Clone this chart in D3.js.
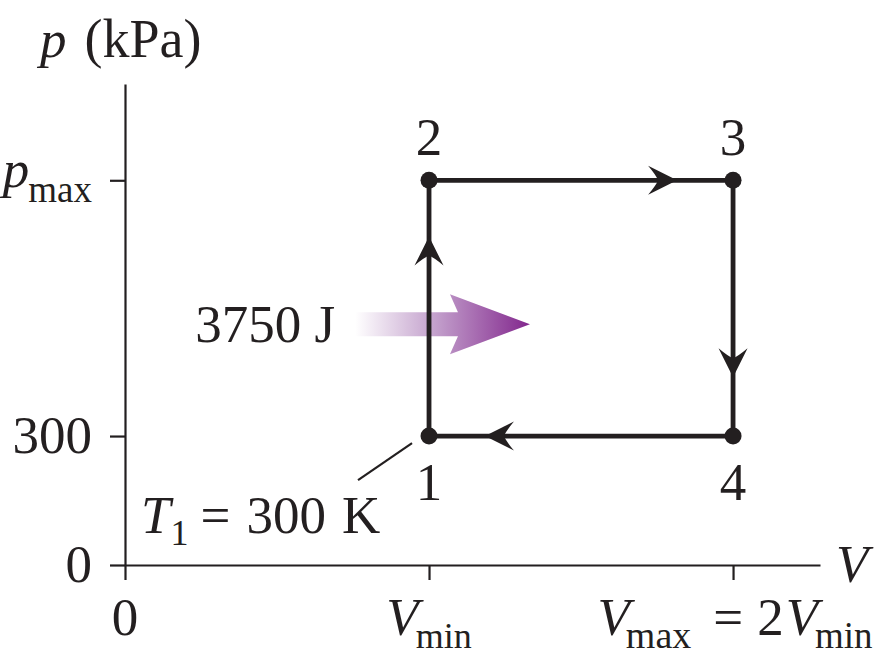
<!DOCTYPE html>
<html>
<head>
<meta charset="utf-8">
<script src="https://cdn.jsdelivr.net/npm/d3@7"></script>
<style>
  html, body { margin: 0; padding: 0; background: #fff; }
  svg { display: block; }
  svg text { font-family: "Liberation Serif", "DejaVu Serif", serif; fill: #231f20; }
</style>
</head>
<body>
<svg id="chart" width="894" height="671" font-family="Liberation Serif, DejaVu Serif, serif"></svg>
<script>
// ---------- data ----------
const stateNames = ["1", "2", "3", "4"];
const stateVolumes = [1, 1, 2, 2];          // in units of V_min
const pMax = 895;                             // kPa (unlabelled)
const statePressures = [300, pMax, pMax, 300]; // kPa
const arrowFractions = [0.78, 0.816, 0.77, 0.816]; // where each direction arrow sits along its leg

const pTickValues = [0, 300, pMax];
const pTickLabels = [["0", ""], ["300", ""], ["p", "max"]];
const vTickValues = [0, 1, 2];

const heatLabel = "3750 J";
const heatArrowV = [0.757, 1.332];  // V range of the heat arrow
const heatArrowP = 560;             // kPa level of the heat arrow
const tempLabel = ["T", "1", "=", "300", "K"];

const vDomainMax = 2.286;
const pDomainMax = 1119;

// ---------- setup ----------
const ink = "#231f20";
const FONT = "'Liberation Serif', 'DejaVu Serif', serif";
const svg = d3.select("#chart");
const x = d3.scaleLinear().domain([0, vDomainMax]).range([125, 820]);
const y = d3.scaleLinear().domain([0, pDomainMax]).range([565, 84]);

// ---------- axes ----------
const yAxis = d3.axisLeft(y).tickValues(pTickValues).tickSize(15).tickSizeOuter(0).tickFormat("");
const xAxis = d3.axisBottom(x).tickValues(vTickValues).tickSize(15).tickSizeOuter(0).tickFormat("");

const gy = svg.append("g").attr("transform", `translate(${x(0)},0)`).call(yAxis);
const gx = svg.append("g").attr("transform", `translate(0,${y(0)})`).call(xAxis);
[gy, gx].forEach(g => {
  g.select(".domain").attr("stroke", ink).attr("stroke-width", 2.2);
  g.selectAll(".tick line").attr("stroke", ink).attr("stroke-width", 2.2);
});

function txt(parent) {
  return parent.append("text").attr("font-family", FONT).attr("fill", ink).attr("font-size", 53);
}

// y tick labels
pTickValues.forEach((d, i) => {
  const [main, sub] = pTickLabels[i];
  const t = txt(svg).attr("x", x(0) - 33).attr("y", y(d) + (sub ? 7 : 17)).attr("text-anchor", "end");
  t.append("tspan").text(main).attr("font-style", sub ? "italic" : "normal");
  if (sub) t.append("tspan").text(sub).attr("font-size", 37).attr("dy", 15).attr("dx", -1);
});

// x tick labels
const xBase = y(0) + 70;
txt(svg).attr("x", x(vTickValues[0])).attr("y", xBase).attr("text-anchor", "middle").text("0");

const vmin = txt(svg).attr("x", x(vTickValues[1])).attr("y", xBase).attr("text-anchor", "middle");
vmin.append("tspan").attr("font-style", "italic").text("V");
vmin.append("tspan").attr("font-size", 36).attr("dy", 13).attr("dx", -3).text("min");

const vmax = txt(svg).attr("x", x(vTickValues[2]) + 2).attr("y", xBase).attr("text-anchor", "middle");
vmax.append("tspan").attr("font-style", "italic").text("V");
vmax.append("tspan").attr("font-size", 38).attr("dy", 13).attr("dx", -4).text("max");
vmax.append("tspan").attr("dy", -13).attr("dx", 22).text("=");
vmax.append("tspan").attr("dx", 14).text("2");
vmax.append("tspan").attr("font-style", "italic").attr("dx", 2).text("V");
vmax.append("tspan").attr("font-size", 37).attr("dy", 13).attr("dx", -3).text("min");

// axis titles
const pTitle = txt(svg).attr("x", 40).attr("y", 57);
pTitle.append("tspan").attr("font-style", "italic").text("p");
pTitle.append("tspan").attr("dx", 18).attr("font-size", 54).text("(kPa)");
txt(svg).attr("x", 836).attr("y", 582).attr("font-style", "italic").text("V");

// ---------- heat arrow ----------
const defs = svg.append("defs");
const grad = defs.append("linearGradient").attr("id", "heatGrad")
  .attr("gradientUnits", "userSpaceOnUse")
  .attr("x1", x(heatArrowV[0])).attr("x2", x(heatArrowV[1])).attr("y1", 0).attr("y2", 0);
grad.append("stop").attr("offset", 0).attr("stop-color", "#ffffff");
grad.append("stop").attr("offset", 0.45).attr("stop-color", "#c4a2cd");
grad.append("stop").attr("offset", 1).attr("stop-color", "#82278d");

{
  const x0 = x(heatArrowV[0]), x1 = x(heatArrowV[1]), cy = y(heatArrowP);
  const headLen = 80, sh = 12, hh = 30;
  const path = d3.path();
  path.moveTo(x0, cy - sh);
  path.lineTo(x1 - headLen + 8, cy - sh);
  path.lineTo(x1 - headLen, cy - hh);
  path.lineTo(x1, cy);
  path.lineTo(x1 - headLen, cy + hh);
  path.lineTo(x1 - headLen + 8, cy + sh);
  path.lineTo(x0, cy + sh);
  path.closePath();
  svg.append("path").attr("d", path.toString()).attr("fill", "url(#heatGrad)");
}
txt(svg).attr("x", x(heatArrowV[0]) - 160).attr("y", y(heatArrowP) + 18).text(heatLabel);

// ---------- cycle ----------
const pts = stateNames.map((n, i) => ({ name: n, v: stateVolumes[i], p: statePressures[i] }));
const line = d3.line().x(d => x(d.v)).y(d => y(d.p));
svg.append("path").attr("d", line([...pts, pts[0]]))
  .attr("fill", "none").attr("stroke", ink).attr("stroke-width", 4.8).attr("stroke-linejoin", "miter");

// direction arrows
const headPath = "M0,0 L-29,-14.5 Q-21,-5 -19,0 Q-21,5 -29,14.5 Z";
pts.forEach((a, i) => {
  const b = pts[(i + 1) % pts.length];
  const f = arrowFractions[i];
  const tx = x(a.v) + (x(b.v) - x(a.v)) * f;
  const ty = y(a.p) + (y(b.p) - y(a.p)) * f;
  const ang = Math.atan2(y(b.p) - y(a.p), x(b.v) - x(a.v)) * 180 / Math.PI;
  svg.append("path").attr("d", headPath).attr("fill", ink)
    .attr("transform", `translate(${tx},${ty}) rotate(${ang})`);
});

// state dots
svg.append("g").selectAll("circle").data(pts).join("circle")
  .attr("cx", d => x(d.v)).attr("cy", d => y(d.p)).attr("r", 8.5).attr("fill", ink);

// state labels
pts.forEach(d => {
  txt(svg).attr("x", x(d.v)).attr("y", d.p === pMax ? y(d.p) - 25 : y(d.p) + 64)
    .attr("text-anchor", "middle").text(d.name);
});

// temperature annotation with leader line
svg.append("line")
  .attr("x1", x(stateVolumes[0]) - 17).attr("y1", y(statePressures[0]) + 7)
  .attr("x2", x(stateVolumes[0]) - 71).attr("y2", y(statePressures[0]) + 44)
  .attr("stroke", ink).attr("stroke-width", 2.2);
const tl = txt(svg).attr("x", 141).attr("y", 533);
tl.append("tspan").attr("font-style", "italic").text(tempLabel[0]);
tl.append("tspan").attr("font-size", 36).attr("dy", 12).attr("dx", 0).text(tempLabel[1]);
tl.append("tspan").attr("dy", -12).attr("dx", 12).text(tempLabel[2]);
tl.append("tspan").attr("dx", 16).text(tempLabel[3]);
tl.append("tspan").attr("dx", 16).text(tempLabel[4]);
</script>
</body>
</html>
